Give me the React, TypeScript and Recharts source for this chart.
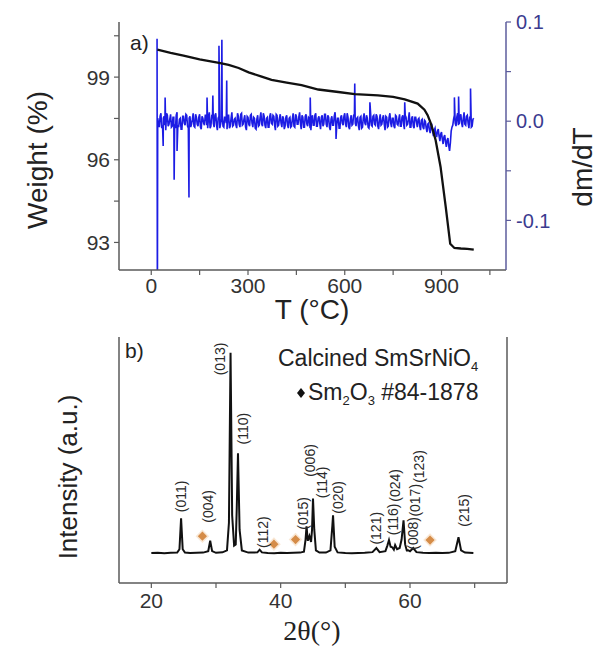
import React from 'react';
import { LineChart, Line, XAxis, YAxis, ComposedChart, Scatter } from 'recharts';

const FONT = '"Liberation Sans", Arial, Helvetica, sans-serif';
const SERIF = '"Liberation Serif", "Times New Roman", serif';

// ---- Panel a: TGA ----
const tgaTemp = [19, 60, 100, 150, 210, 240, 271, 302, 340, 373, 420, 466, 518, 580, 631, 703, 750, 786, 826, 847, 857, 866, 874, 882, 897, 913, 927, 940, 960, 980, 1000];
const tgaWeight = [100.0, 99.88, 99.78, 99.64, 99.52, 99.44, 99.33, 99.17, 99.03, 98.9, 98.8, 98.71, 98.55, 98.46, 98.38, 98.34, 98.28, 98.19, 98.04, 97.82, 97.62, 97.35, 97.05, 96.7, 95.75, 94.3, 92.95, 92.8, 92.78, 92.77, 92.74];

// dm/dT (x1000) sampled every 5 °C from 20 °C to 1000 °C
const dtgStart = 20;
const dtgStep = 5;
const dtgMilli = [
  3, -6, 8, -4, 5, -9, 6, -3, 7, -5,
  4, -7, 9, -6, 3, -8, 5, -4, 6, -7,
  5, -3, 8, -6, 4, -5, 7, -8, 3, -4,
  6, -7, 9, -5, 4, -6, 8, -9, 5, -3,
  7, -6, 4, -8, 6, -5, 9, -4, 3, -7,
  5, -6, 8, -3, 6, -9, 4, -5, 7, -6,
  3, -8, 6, -4, 9, -5, 5, -7, 4, -6,
  8, -3, 5, -9, 6, -4, 7, -6, 3, -5,
  6, -7, 4, -5, 8, -6, 5, -3, 9, -8,
  4, -6, 7, -5, 3, -9, 6, -4, 8, -5,
  5, -8, 6, -3, 7, -6, 4, -9, 5, -4,
  9, -5, 3, -7, 6, -4, 8, -6, 4, -8,
  6, -3, 7, -5, 4, -9, 5, -6, 8, -4,
  3, -7, 9, -5, 6, -4, 5, -8, 7, -3,
  6, -9, 4, -5, 8, -6, 3, -7, 5, -4,
  7, -5, 6, -8, 4, -3, 9, -6, 5, -7,
  4, -6, 3, -9, 2, -8, 0, -11, -2, -12,
  -4, -15, -7, -16, -8, -20, -11, -23, -14, -26,
  -17, -30, -10, -4, 6, -5, 8, -3, 7, -6,
  9, -4, 6, -7, 5, -5, 3,
];
// dm/dT (x1000) read between the samples above, from 22.5 °C to 997.5 °C
const dtgMidStart = 22.5;
const dtgMidMilli = [
  -2, 5, -7, 3, -4, 8, -5, 2, -6, 4,
  -3, 6, -4, 2, -8, 5, -2, 7, -5, 3,
  -6, 2, -5, 7, -3, 4, -6, 5, -2, 6,
  -4, 3, -7, 5, -2, 6, -4, 3, -7, 2,
  -5, 4, -2, 6, -7, 3, -5, 2, -4, 8,
  -3, 7, -4, 2, -6, 5, -3, 6, -2, 4,
  -7, 2, -5, 4, -3, 8, -4, 3, -6, 5,
  -2, 6, -4, 7, -5, 3, -2, 5, -8, 4,
  -4, 3, -6, 2, -5, 7, -3, 4, -2, 6,
  -6, 5, -3, 4, -7, 2, -4, 6, -5, 3,
  -2, 4, -5, 7, -3, 6, -6, 2, -4, 5,
  -5, 3, -7, 4, -2, 5, -3, 8, -6, 2,
  -4, 6, -2, 3, -5, 4, -7, 3, -2, 6,
  -6, 2, -4, 5, -3, 7, -5, 2, -4, 3,
  -3, 5, -6, 4, -2, 3, -5, 6, -3, 2,
  -5, 4, -3, 6, -4, 2, -6, 3, -5, 4,
  -1, 2, -5, 1, -6, 1, -7, -3, -9, -5,
  -10, -9, -13, -10, -15, -13, -18, -16, -21, -19,
  -25, -22, -6, 2, -2, 4, -4, 5, -2, 3,
  -3, 5, -2, 4, -6, 2,
];
const spikeTemp = [18, 19, 37, 43, 71, 80, 117, 173, 191, 210, 219, 234, 493, 573, 631, 678, 786, 940, 953, 990];
const spikeMilli = [83, -200, -25, 24, -59, -30, -77, 24, 26, 76, 82, 41, 24, -18, 38, 19, 19, 24, 25, 33];

const tempTicks = [0, 150, 300, 450, 600, 750, 900, 1050];
const tempLabels = [0, 300, 600, 900];
const weightTicks = [93, 94.5, 96, 97.5, 99, 100.5];
const weightLabels = [93, 96, 99];
const dtgTicks = [-0.1, -0.05, 0, 0.05, 0.1];

// ---- Panel b: XRD ----
const xrdTheta = [20, 21, 22, 23, 24, 24.35, 24.6, 24.85, 25.2, 26, 27, 28, 28.8, 29.1, 29.4, 30, 31, 31.7, 32.0, 32.25, 32.5, 32.8, 33.05, 33.2, 33.4, 33.65, 34.0, 35, 36.4, 36.75, 37.1, 38, 39, 40, 41, 42, 43, 43.6, 43.85, 44.0, 44.2, 44.45, 44.7, 44.85, 45.0, 45.2, 45.45, 46, 47, 47.7, 48.0, 48.1, 48.35, 48.8, 50, 51, 52, 53, 54.2, 54.8, 55.3, 56.2, 56.5, 56.75, 57.0, 57.25, 57.5, 57.7, 58.0, 58.4, 58.7, 59.0, 59.25, 59.5, 59.7, 60.0, 60.5, 61.0, 62, 63, 64, 65, 66, 67.0, 67.5, 67.9, 68.5, 69.8];
const xrdIntensity = [12.4, 12.5, 12.3, 12.5, 12.6, 14, 26.8, 14, 12.6, 12.4, 12.5, 12.6, 13.2, 17.5, 13.2, 12.5, 12.7, 13.5, 25, 95.5, 28, 15.5, 16, 30, 53.8, 22, 13.5, 12.6, 12.7, 13.8, 12.7, 12.4, 12.3, 12.5, 12.4, 12.5, 12.6, 13, 18, 23.5, 17.5, 19.5, 17, 22, 35, 22, 13.5, 12.6, 12.6, 13.5, 24, 28.1, 15, 12.7, 12.4, 12.3, 12.4, 12.5, 12.8, 14.5, 12.8, 13.2, 15.5, 17.8, 15, 14.8, 13.8, 15.7, 14, 14.5, 18, 26, 16, 13.5, 13.6, 13.2, 14.5, 12.8, 12.5, 12.4, 12.5, 12.4, 12.5, 13.2, 19, 13.5, 12.6, 12.4];

const sm2o3Theta = [27.9, 38.96, 42.3, 63.1];
const sm2o3Intensity = [19.4, 16.1, 18.0, 17.8];

const peakHkl = ['(011)', '(004)', '(013)', '(110)', '(112)', '(015)', '(006)', '(114)', '(020)', '(121)', '(116)', '(024)', '(008)', '(017)', '(123)', '(215)'];
const peakLabelTheta = [24.65, 28.7, 30.55, 34.25, 37.2, 43.4, 44.5, 46.35, 48.85, 54.75, 57.35, 57.65, 60.45, 60.8, 61.4, 68.4];
const peakLabelIntensity = [35.9, 31.8, 92.9, 64.0, 21.1, 28.9, 50.8, 41.7, 35.5, 22.7, 26.4, 40.5, 20.6, 34.3, 48.3, 30.1];

const thetaTicks = [20, 30, 40, 50, 60, 70];
const thetaLabels = [20, 40, 60];
const intensityTicks = [0, 6, 12, 18, 24, 30, 36, 42, 48, 54, 60, 66, 72, 78, 84, 90, 96, 102];

// ---- derived tables ----
const tgaData = tgaTemp.map((t, i) => ({ t, w: tgaWeight[i] }));
const dtgData = (() => {
  const pts = dtgMilli.map((v, i) => ({ t: dtgStart + i * dtgStep, d: v / 1000 }));
  dtgMidMilli.forEach((v, i) => pts.push({ t: dtgMidStart + i * dtgStep, d: v / 1000 }));
  spikeTemp.forEach((t, i) => pts.push({ t, d: spikeMilli[i] / 1000 }));
  pts.sort((a, b) => a.t - b.t);
  return pts;
})();
const xrdData = xrdTheta.map((x, i) => ({ x, y: xrdIntensity[i] }));
const sm2o3Data = sm2o3Theta.map((x, i) => ({ x, y: sm2o3Intensity[i] }));
const peakLabelData = peakHkl.map((label, i) => ({ x: peakLabelTheta[i], y: peakLabelIntensity[i], label }));

const FRAME = '#5a5a5a';
const RIGHT = '#5c5c9c';

const Diamond = (p: any) => {
  const { cx, cy } = p;
  if (cx == null || cy == null) return <g />;
  const r = 4.6;
  const h = 6.8;
  return (
    <g>
      <polygon points={`${cx},${cy - h} ${cx + h},${cy} ${cx},${cy + h} ${cx - h},${cy}`} fill="#f1c9a0" opacity={0.45} />
      <polygon points={`${cx},${cy - r} ${cx + r},${cy} ${cx},${cy + r} ${cx - r},${cy}`} fill="#d58c48" />
    </g>
  );
};

const PeakLabel = (p: any) => {
  const { cx, cy, payload } = p;
  if (cx == null || cy == null) return <g />;
  return (
    <text
      x={cx}
      y={cy}
      transform={`rotate(-90 ${cx} ${cy})`}
      textAnchor="middle"
      dominantBaseline="central"
      fontSize={14}
      fill="#2a2a2a"
      fontFamily={FONT}
    >
      {payload.label}
    </text>
  );
};

export default function App() {
  return (
    <div style={{ position: 'relative', width: 597, height: 649, background: '#fff', overflow: 'hidden' }}>
      <style>{'body{margin:0;background:#fff;}'}</style>

      <div style={{ position: 'absolute', left: 0, top: 0 }}>
        <LineChart width={597} height={330} margin={{ top: 22, right: 0, bottom: 0, left: 0 }}>
          <XAxis
            type="number"
            dataKey="t"
            domain={[-100, 1100]}
            allowDataOverflow
            ticks={tempTicks}
            tickFormatter={(v: number) => (tempLabels.includes(v) ? String(v) : '')}
            height={60}
            tickSize={5}
            tickMargin={3}
            axisLine={{ stroke: FRAME, strokeWidth: 1.5 }}
            tickLine={{ stroke: FRAME, strokeWidth: 1.2 }}
            tick={{ fill: '#333', fontSize: 21, fontFamily: FONT }}
          />
          <XAxis
            xAxisId="top"
            orientation="top"
            type="number"
            domain={[-100, 1100]}
            allowDataOverflow
            ticks={tempTicks}
            height={0}
            mirror
            tick={false}
            tickSize={5}
            axisLine={{ stroke: FRAME, strokeWidth: 1.5 }}
            tickLine={{ stroke: FRAME, strokeWidth: 1.2 }}
          />
          <YAxis
            yAxisId="w"
            type="number"
            domain={[92, 101]}
            allowDataOverflow
            ticks={weightTicks}
            tickFormatter={(v: number) => (weightLabels.includes(v) ? String(v) : '')}
            width={119}
            tickSize={5}
            tickMargin={4}
            axisLine={{ stroke: FRAME, strokeWidth: 1.5 }}
            tickLine={{ stroke: FRAME, strokeWidth: 1.2 }}
            tick={{ fill: '#333', fontSize: 21, fontFamily: FONT }}
          />
          <YAxis
            yAxisId="d"
            orientation="right"
            type="number"
            domain={[-0.15, 0.1]}
            allowDataOverflow
            ticks={dtgTicks}
            tickFormatter={(v: number) => (v === 0.1 ? '0.1' : v === 0 ? '0.0' : v === -0.1 ? '-0.1' : '')}
            width={91}
            tickSize={5}
            tickMargin={5}
            axisLine={{ stroke: RIGHT, strokeWidth: 1.5 }}
            tickLine={{ stroke: RIGHT, strokeWidth: 1.2 }}
            tick={{ fill: '#3b3b8f', fontSize: 20, fontFamily: FONT }}
          />
          <Line yAxisId="d" data={dtgData} dataKey="d" type="linear" stroke="#1c1ce4" strokeWidth={1.6} dot={false} activeDot={false} isAnimationActive={false} />
          <Line yAxisId="w" data={tgaData} dataKey="w" type="linear" stroke="#111" strokeWidth={2.3} dot={false} activeDot={false} isAnimationActive={false} />
        </LineChart>
      </div>

      <div style={{ position: 'absolute', left: 0, top: 310 }}>
        <ComposedChart width={597} height={339} margin={{ top: 27, right: 0, bottom: 0, left: 0 }}>
          <XAxis
            type="number"
            dataKey="x"
            domain={[15, 75]}
            allowDataOverflow
            ticks={thetaTicks}
            tickFormatter={(v: number) => (thetaLabels.includes(v) ? String(v) : '')}
            height={66}
            tickSize={5}
            tickMargin={5}
            axisLine={{ stroke: FRAME, strokeWidth: 1.5 }}
            tickLine={{ stroke: FRAME, strokeWidth: 1.2 }}
            tick={{ fill: '#333', fontSize: 21, fontFamily: FONT }}
          />
          <XAxis
            xAxisId="top"
            orientation="top"
            type="number"
            domain={[15, 75]}
            allowDataOverflow
            height={0}
            tick={false}
            tickLine={false}
            axisLine={{ stroke: FRAME, strokeWidth: 1.5 }}
          />
          <YAxis
            type="number"
            dataKey="y"
            domain={[0, 102]}
            allowDataOverflow
            ticks={intensityTicks}
            tick={false}
            width={119}
            tickSize={5}
            axisLine={{ stroke: FRAME, strokeWidth: 1.5 }}
            tickLine={{ stroke: FRAME, strokeWidth: 1.2 }}
          />
          <YAxis
            yAxisId="r"
            orientation="right"
            type="number"
            domain={[0, 102]}
            allowDataOverflow
            tick={false}
            tickLine={false}
            width={90}
            axisLine={{ stroke: FRAME, strokeWidth: 1.5 }}
          />
          <Line data={xrdData} dataKey="y" type="linear" stroke="#111" strokeWidth={2} dot={false} activeDot={false} isAnimationActive={false} />
          <Scatter data={sm2o3Data} dataKey="y" shape={Diamond} isAnimationActive={false} />
          <Scatter data={peakLabelData} dataKey="y" shape={PeakLabel} isAnimationActive={false} />
        </ComposedChart>
      </div>

      <svg width={597} height={649} style={{ position: 'absolute', left: 0, top: 0, pointerEvents: 'none' }}>
        <text x={47} y={160} transform="rotate(-90 47 160)" textAnchor="middle" fontSize={28} fill="#222" fontFamily={FONT}>Weight (%)</text>
        <text x={592} y={167} transform="rotate(-90 592 167)" textAnchor="middle" fontSize={28} fill="#222" fontFamily={FONT}>dm/dT</text>
        <text x={312} y={319} textAnchor="middle" fontSize={28} fill="#222" fontFamily={FONT}>T (°C)</text>
        <text x={130} y={50} fontSize={21} fill="#222" fontFamily={FONT}>a)</text>

        <text x={77} y={477} transform="rotate(-90 77 477)" textAnchor="middle" fontSize={26} fill="#222" fontFamily={FONT}>Intensity (a.u.)</text>
        <text x={312} y={640} textAnchor="middle" fontSize={28} fill="#222" fontFamily={SERIF}>2θ(°)</text>
        <text x={125} y={358} fontSize={21} fill="#222" fontFamily={FONT}>b)</text>
        <text x={278} y={366} fontSize={23} fill="#222" fontFamily={FONT}>
          Calcined SmSrNiO<tspan dy={5} fontSize={13}>4</tspan>
        </text>
        <polygon points="301,388 305,393 301,398 297,393" fill="#111" />
        <text x={308} y={400} fontSize={23} fill="#222" fontFamily={FONT}>
          Sm<tspan dy={5} fontSize={13}>2</tspan><tspan dy={-5}>O</tspan><tspan dy={5} fontSize={13}>3</tspan><tspan dy={-5}> #84-1878</tspan>
        </text>
      </svg>
    </div>
  );
}
